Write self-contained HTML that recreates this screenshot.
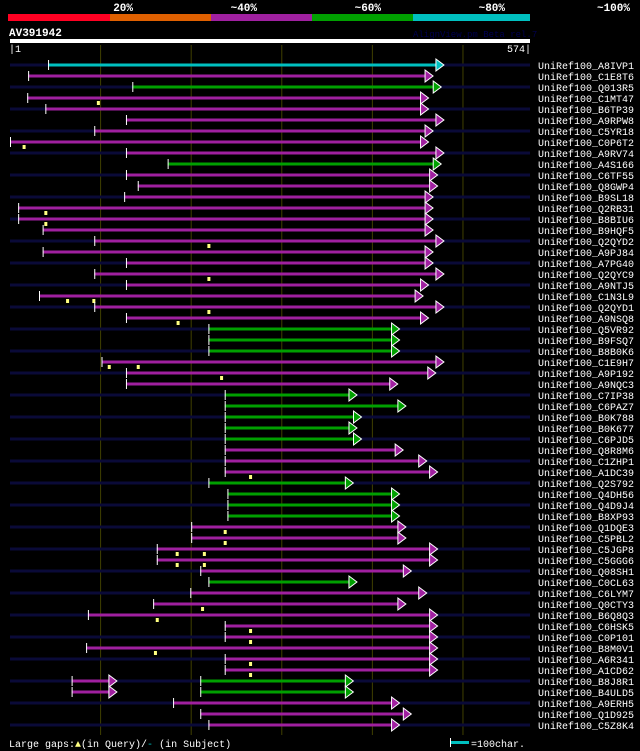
<!DOCTYPE html>
<html><head><meta charset="utf-8"><style>
html,body{margin:0;padding:0;background:#000;}
svg{display:block;}
text{font-family:"Liberation Mono","DejaVu Sans Mono",monospace;}
</style></head><body>
<svg id="chart" width="640" height="751" viewBox="0 0 640 751" xmlns="http://www.w3.org/2000/svg">
<g>
<rect x="8" y="14" width="102" height="7" fill="#ff0022"/>
<rect x="110" y="14" width="101" height="7" fill="#e06000"/>
<rect x="211" y="14" width="101" height="7" fill="#a020a0"/>
<rect x="312" y="14" width="101" height="7" fill="#00a000"/>
<rect x="413" y="14" width="117" height="7" fill="#00c0c0"/>
<text x="133" y="11" fill="#fff" font-size="11" font-weight="bold" text-anchor="end">20%</text>
<text x="257" y="11" fill="#fff" font-size="11" font-weight="bold" text-anchor="end">~40%</text>
<text x="381" y="11" fill="#fff" font-size="11" font-weight="bold" text-anchor="end">~60%</text>
<text x="505" y="11" fill="#fff" font-size="11" font-weight="bold" text-anchor="end">~80%</text>
<text x="630" y="11" fill="#fff" font-size="11" font-weight="bold" text-anchor="end">~100%</text>
</g>
<text x="9" y="36" fill="#fff" font-size="11" font-weight="bold">AV391942</text>
<text x="413" y="37" fill="#000050" font-size="9">AlignView.pm Beta rel.7</text>
<rect x="10" y="39" width="520" height="4" fill="#fff"/>
<text x="9" y="52" fill="#fff" font-size="10">|1</text>
<text x="531" y="52" fill="#fff" font-size="10" text-anchor="end">574|</text>
<g id="grid"></g>
<g id="rows"></g>
<g>
<text x="9" y="747" fill="#fff" font-size="10">Large gaps:<tspan fill="#ffff80">▲</tspan>(in Query)/<tspan fill="#00c0c0">-</tspan> (in Subject)</text>
<rect x="451" y="741" width="18" height="3" fill="#00c0c0"/>
<rect x="450" y="738" width="1" height="9" fill="#fff"/>
<text x="471" y="747" fill="#fff" font-size="10">=100char.</text>
</g>
</svg>
<script>
const queryLen = 574;
const names = ["A8IVP1","C1E8T6","Q013R5","C1MT47","B6TP39","A9RPW8","C5YR18","C0P6T2","A9RV74","A4S166","C6TF55","Q8GWP4","B9SL18","Q2RB31","B8BIU6","B9HQF5","Q2QYD2","A9PJ84","A7PG40","Q2QYC9","A9NTJ5","C1N3L9","Q2QYD1","A9NSQ8","Q5VR92","B9FSQ7","B8B0K6","C1E9H7","A9P192","A9NQC3","C7IP38","C6PAZ7","B0K788","B0K677","C6PJD5","Q8R8M6","C1ZHP1","A1DC39","Q2S792","Q4DH56","Q4D9J4","B8XP93","Q1DQE3","C5PBL2","C5JGP8","C5GGG6","Q08SH1","C0CL63","C6LYM7","Q0CTY3","B6Q8Q3","C6HSK5","C0P101","B8M0V1","A6R341","A1CD62","B8J8R1","B4ULD5","A9ERH5","Q1D925","C5Z8K4"];
const starts = [42,20,135,19,39,128,93,0,128,174,128,141,126,9,9,36,93,36,128,93,128,32,93,128,219,219,219,101,128,128,237,237,237,237,237,237,237,237,219,240,240,240,200,200,162,162,210,219,199,158,86,237,237,84,237,237,210,210,180,210,219];
const ends = [479,467,476,462,462,479,467,462,479,476,472,472,467,467,467,467,479,467,467,479,462,456,479,462,430,430,430,479,470,428,383,437,388,383,388,434,460,472,379,430,430,430,437,437,472,472,443,383,460,437,472,472,472,472,472,472,379,379,430,443,430];
const identityBin = ["c","m","g","m","m","m","m","m","m","g","m","m","m","m","m","m","m","m","m","m","m","m","m","m","g","g","g","m","m","m","g","g","g","g","g","m","m","m","g","g","g","g","m","m","m","m","m","g","m","m","m","m","m","m","m","m","g","g","m","m","m"];
const gapMarkers = [[],[],[],[97],[],[],[],[15],[],[],[],[],[],[39],[39],[],[219],[],[],[219],[],[63,92],[219],[185],[],[],[],[109,141],[233],[],[],[],[],[],[],[],[],[265],[],[],[],[],[237],[237],[184,214],[184,214],[],[],[],[212],[162],[265],[265],[160],[265],[265],[],[],[],[],[]];
const extraSegStart = {56:68,57:68};
const extraSegEnd = {56:118,57:118};
const gridTicks = [100,200,300,400,500];

const colors = {c:"#00c0c0",m:"#a020a0",g:"#00a000"};
const NS = "http://www.w3.org/2000/svg";
const X0 = 10, X1 = 530;
const xs = c => X0 + c * (X1 - X0) / queryLen;
const ys = i => 65 + i * 11;
function mk(tag, attrs, parent){const e=document.createElementNS(NS,tag);for(const k in attrs)e.setAttribute(k,attrs[k]);parent.appendChild(e);return e;}
const grid = document.getElementById('grid');
gridTicks.forEach(t=>{
  const l = mk('line',{x1:xs(t),x2:xs(t),y1:45,y2:735,stroke:'#404000','stroke-width':1},grid);
  
  
});
const rows = document.getElementById('rows');
function seg(g,s,e,y,col){
  const x1=xs(s), x2=xs(e);
  const r = mk('rect',{x:x1,y:y-1.5,width:Math.max(0,x2-x1-7),height:3,fill:col},g);
  
  
  const t = mk('line',{x1:x1+0.5,x2:x1+0.5,y1:y-5,y2:y+5,stroke:'#fff','stroke-width':1},g);
  
  
  const a = mk('polygon',{points:`${x2-8},${y-6} ${x2},${y} ${x2-8},${y+6}`,fill:col,stroke:'#fff','stroke-width':1},g);
  
  
}
names.forEach((n,i)=>{
  const y = ys(i);
  const g = mk('g',{},rows);
  
  
  if(i%2===0){
    const bg = mk('rect',{x:X0,y:y-1.5,width:X1-X0,height:3,fill:'#0a0a38'},g);
    
    
  }
  if(extraSegStart[i]!==undefined) seg(g,extraSegStart[i],extraSegEnd[i],y,colors.m);
  seg(g,starts[i],ends[i],y,colors[identityBin[i]]);
  gapMarkers[i].forEach(m=>{
    const mm = mk('rect',{x:xs(m)-1,y:y+3,width:3,height:4,fill:'#ffff80'},g);
    
    
  });
  const tx = mk('text',{x:538,y:y+4,fill:'#fff','font-size':10},g);
  tx.textContent = 'UniRef100_'+n;
  
  
});
</script>
</body></html>
